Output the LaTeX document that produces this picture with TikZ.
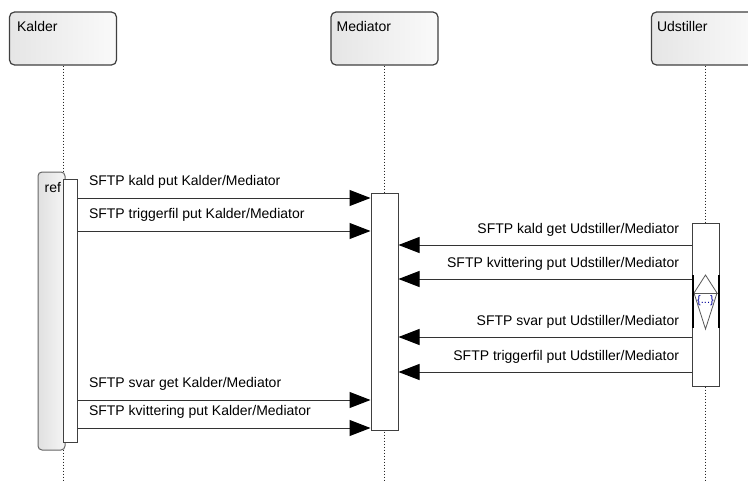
\documentclass[tikz,border=0pt]{standalone}
\usepackage{fontspec}
\setmainfont{Liberation Sans}
\usetikzlibrary{arrows.meta}
\begin{document}
\begin{tikzpicture}[x=1pt,y=-1pt,
  font=\fontsize{14}{16}\selectfont,
  head/.style={draw=black!75, line width=1.2pt, rounded corners=5pt,
    left color=black!10, right color=black!2,
    minimum width=107pt, minimum height=53pt, inner sep=0pt},
  headlbl/.style={anchor=north west, inner sep=0pt},
  lifeline/.style={draw=black!85, line width=0.9pt, dash pattern=on 1pt off 2pt},
  actbar/.style={draw=black!75, line width=1pt, fill=white, inner sep=0pt},
  refbox/.style={draw=black!60, line width=1pt, rounded corners=4pt,
    left color=black!12, right color=black!4, inner sep=0pt},
  msg/.style={draw=black!80, line width=1pt, -{Triangle[length=21pt,width=16pt,color=black]}},
  lbl/.style={inner sep=0pt, text=black},
  frag/.style={draw=black!65, line width=0.8pt}
]
\clip (0,0) rectangle (748,482);
\fill[white] (0,0) rectangle (748,482);

% heads
\node[head] (kh) at (63,38.5) {};
\node[headlbl] (khl) at ([xshift=8pt,yshift=-10pt]kh.north west) {Kalder};
\node[head] (mh) at (384.5,38.5) {};
\node[headlbl] (mhl) at ([xshift=6pt,yshift=-10pt]mh.north west) {Mediator};
\node[head] (uh) at (705,38.5) {};
\node[headlbl] (uhl) at ([xshift=6pt,yshift=-10pt]uh.north west) {Udstiller};

\coordinate (bottom) at (0,482);
\draw[lifeline] (kh.south) -- (kh.south |- bottom);
\draw[lifeline] (mh.south) -- (mh.south |- bottom);
\draw[lifeline] (uh.south) -- (uh.south |- bottom);

% ref fragment
\node[refbox, minimum width=27pt, minimum height=278pt] (ref) at (51.5,311) {};
\node[inner sep=0pt, anchor=west] (refl) at (44.5,188) {ref};

% activation bars
\node[actbar, minimum width=14pt, minimum height=263pt] (kb) at (70,310.5) {};
\node[actbar, minimum width=27pt, minimum height=237pt] (mb) at (384.5,311.5) {};
\node[actbar, minimum width=27pt, minimum height=163pt] (ub) at (705.5,304.5) {};

% message levels
\coordinate (m1) at (0,198);
\coordinate (m2) at (0,231);
\coordinate (m3) at (0,245);
\coordinate (m4) at (0,279);
\coordinate (m5) at (0,337);
\coordinate (m6) at (0,372);
\coordinate (m7) at (0,400);
\coordinate (m8) at (0,428);

\draw[msg] (kb.east |- m1) -- (mb.west |- m1)
  node[lbl, pos=0, anchor=base west, xshift=11pt, yshift=13pt] {SFTP kald put Kalder/Mediator};
\draw[msg] (kb.east |- m2) -- (mb.west |- m2)
  node[lbl, pos=0, anchor=base west, xshift=11pt, yshift=13pt] {SFTP triggerfil put Kalder/Mediator};
\draw[msg] (ub.west |- m3) -- (mb.east |- m3)
  node[lbl, pos=0, anchor=base east, xshift=-12pt, yshift=12pt] {SFTP kald get Udstiller/Mediator};
\draw[msg] (ub.west |- m4) -- (mb.east |- m4)
  node[lbl, pos=0, anchor=base east, xshift=-12pt, yshift=12pt] {SFTP kvittering put Udstiller/Mediator};
\draw[msg] (ub.west |- m5) -- (mb.east |- m5)
  node[lbl, pos=0, anchor=base east, xshift=-12pt, yshift=12pt] {SFTP svar put Udstiller/Mediator};
\draw[msg] (ub.west |- m6) -- (mb.east |- m6)
  node[lbl, pos=0, anchor=base east, xshift=-12pt, yshift=12pt] {SFTP triggerfil put Udstiller/Mediator};
\draw[msg] (kb.east |- m7) -- (mb.west |- m7)
  node[lbl, pos=0, anchor=base west, xshift=11pt, yshift=13pt] {SFTP svar get Kalder/Mediator};
\draw[msg] (kb.east |- m8) -- (mb.west |- m8)
  node[lbl, pos=0, anchor=base west, xshift=11pt, yshift=13pt] {SFTP kvittering put Kalder/Mediator};

% fragment marker on Udstiller bar
\draw[frag] (694,293) -- (705.5,275) -- (717,293);
\draw[frag] (694,293) -- (705.5,329) -- (717,293);
\draw[frag] (692,293) -- (719,293);
\draw[black, line width=2.2pt] (693,275) -- (693,328);
\draw[black, line width=2.2pt] (719,275) -- (719,328);
\node[inner sep=0pt, font=\fontsize{11}{12}\selectfont, text=blue!60!black] (fragl) at (705.5,301) {\{...\}};
\end{tikzpicture}
\end{document}
